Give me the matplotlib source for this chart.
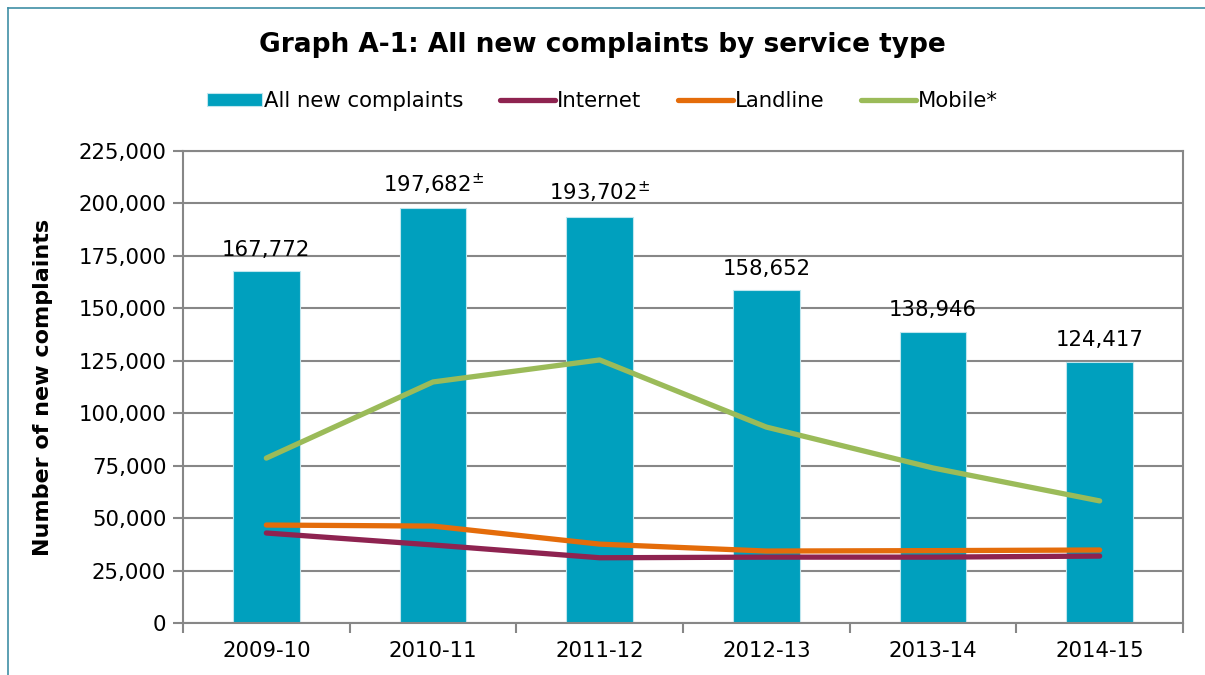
import matplotlib.pyplot as plt
from matplotlib.lines import Line2D
import numpy as np

years = ["2009-10", "2010-11", "2011-12", "2012-13", "2013-14", "2014-15"]
all_new = [167772, 197682, 193702, 158652, 138946, 124417]
internet = [42900, 37200, 31100, 31400, 31400, 31900]
landline = [46700, 46200, 37600, 34300, 34500, 34800]
mobile = [78600, 114900, 125400, 93400, 73900, 58200]
label_mark = ["", "$^{\\pm}$", "$^{\\pm}$", "", "", ""]

plt.rcParams["font.family"] = "DejaVu Sans"
plt.rcParams["mathtext.fontset"] = "dejavusans"
grey = "#878787"
fs = 15.3

fig = plt.figure(figsize=(12.05, 6.75), dpi=100)
ax = fig.add_axes([183 / 1205, 1 - 623 / 675, 1000 / 1205, 472 / 675])

x = np.arange(len(years))
bars = ax.bar(x, all_new, width=0.4, color="#00A0BE", edgecolor="#bfe6ee", linewidth=0.8,
              zorder=2, label="All new complaints")
ax.plot(x, internet, color="#8E2350", lw=3.8, solid_capstyle="round", zorder=3, label="Internet")
ax.plot(x, landline, color="#E46C0A", lw=3.8, solid_capstyle="round", zorder=3, label="Landline")
ax.plot(x, mobile, color="#9BBB59", lw=3.8, solid_capstyle="round", zorder=3, label="Mobile*")

for i, v in enumerate(all_new):
    ax.text(i, v + 5500, f"{v:,}" + label_mark[i], ha="center", va="bottom", fontsize=fs)

ax.set_xlim(-0.5, len(years) - 0.5)
ax.set_ylim(0, 225000)
ax.set_yticks(np.arange(0, 225001, 25000))
ax.set_yticklabels([f"{t:,}" for t in range(0, 225001, 25000)], fontsize=fs)
ax.set_xticks(x)
ax.set_xticklabels(years, fontsize=fs)
ax.set_xticks(np.arange(-0.5, len(years)), minor=True)
ax.tick_params(axis="x", which="major", length=0, pad=13)
ax.tick_params(axis="x", which="minor", length=7, width=1.5, color=grey)
ax.tick_params(axis="y", length=7, width=1.5, color=grey, pad=5)
ax.grid(axis="y", color=grey, lw=1.5, zorder=0)
ax.set_axisbelow(True)
for s in ax.spines.values():
    s.set_color(grey)
    s.set_linewidth(1.5)

ax.set_ylabel("Number of new complaints", fontsize=16, fontweight="bold")
ax.yaxis.set_label_coords(-130 / 1000, 0.5)

fig.text(0.5, 1 - 45 / 675, "Graph A-1: All new complaints by service type",
         ha="center", va="center", fontsize=19, fontweight="bold")

handles, labels = ax.get_legend_handles_labels()
order = [3, 0, 1, 2] if labels[3] == "All new complaints" else [0, 1, 2, 3]
fig.legend([handles[k] for k in order], [labels[k] for k in order], loc="center",
           bbox_to_anchor=(0.5, 1 - 101 / 675), ncol=4, frameon=False, fontsize=fs,
           handlelength=2.6, handletextpad=0.1, columnspacing=1.7, handleheight=0.6)

fig.add_artist(Line2D([8 / 1205, 8 / 1205], [0, 1 - 8 / 675], color="#3F8FA6", lw=1.2))
fig.add_artist(Line2D([8 / 1205, 1], [1 - 8 / 675, 1 - 8 / 675], color="#3F8FA6", lw=1.2))

fig.savefig("out.png", dpi=100)
